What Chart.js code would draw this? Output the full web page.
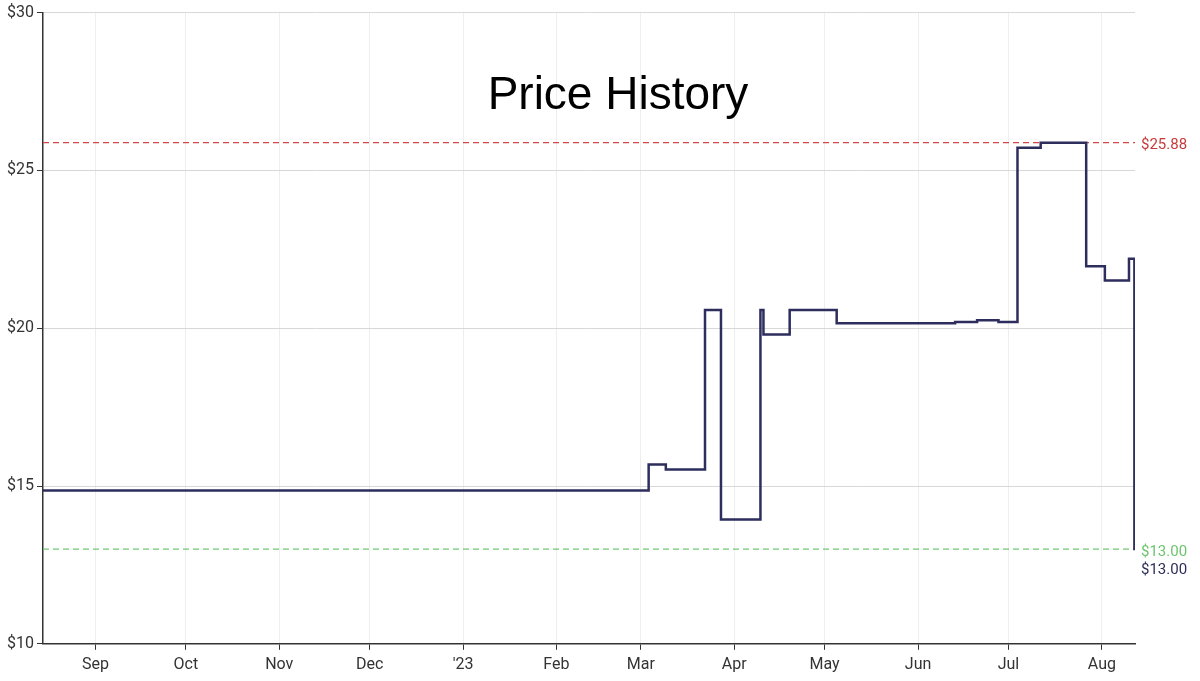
<!DOCTYPE html>
<html><head><meta charset="utf-8">
<script src="https://cdn.jsdelivr.net/npm/chart.js@4"></script>
<style>html,body{margin:0;padding:0;background:#fff}#w{width:1200px;height:681px}</style>
</head><body><div id="w"><canvas id="c"></canvas></div>
<script>
// days since 2022-09-01
const priceDays = [-17.4, 183.6, 189.3, 202.3, 207.6, 220.7, 221.7, 230.4, 246, 285.3, 292.6, 299.7, 306, 313.7, 328.8, 335, 343, 344.8, 345];
const prices    = [14.86, 15.68, 15.52, 20.58, 13.94, 20.58, 19.8, 20.58, 20.16, 20.2, 20.25, 20.2, 25.72, 25.88, 21.96, 21.51, 22.2, 13.0, 13.0];
const highPrice = 25.88;
const lowPrice = 13.00;
const currentPrice = 13.00;
const monthDays = [0, 30, 61, 91, 122, 153, 181, 212, 242, 273, 303, 334];
const monthLabels = ['Sep','Oct','Nov','Dec',"'23",'Feb','Mar','Apr','May','Jun','Jul','Aug'];
const yTicks = [10, 15, 20, 25, 30];
const xMin = -17.4, xMax = 345;

const rightLabels = {
  id:'rightLabels',
  afterDraw(ch){
    const c = ch.ctx, y = ch.scales.y, x = ch.chartArea.right + 6;
    c.save(); c.font = '15px Roboto'; c.textBaseline='middle'; c.textAlign='left';
    c.fillStyle='#c83a3a'; c.fillText('$'+highPrice.toFixed(2), x, y.getPixelForValue(highPrice)+3);
    c.fillStyle='#6cc46c'; c.fillText('$'+lowPrice.toFixed(2), x, y.getPixelForValue(lowPrice)+3);
    c.fillStyle='#2d2d5a'; c.fillText('$'+currentPrice.toFixed(2), x, y.getPixelForValue(lowPrice)+21);
    c.font='46px "Liberation Sans"'; c.fillStyle='#000'; c.textAlign='center';
    c.fillText('Price History', 618, 96);
    c.restore();
  }
};

new Chart(document.getElementById('c'), {
  type:'line',
  data:{datasets:[
    {data: priceDays.map((d,i)=>({x:d,y:prices[i]})), stepped:'before', borderColor:'#2d2d5e', borderWidth:2.5, pointRadius:0, fill:false},
    {data:[{x:xMin,y:highPrice},{x:xMax,y:highPrice}], borderColor:'#d04848', borderWidth:1.3, borderDash:[6,4], pointRadius:0},
    {data:[{x:xMin,y:lowPrice},{x:xMax,y:lowPrice}], borderColor:'#70c870', borderWidth:1.3, borderDash:[6,4], pointRadius:0}
  ]},
  options:{
    responsive:true, maintainAspectRatio:false, animation:false,
    layout:{padding:{left:4,right:65,top:1,bottom:0}},
    plugins:{legend:{display:false}, tooltip:{enabled:false}},
    scales:{
      x:{type:'linear', min:xMin, max:xMax,
        afterBuildTicks(a){a.ticks = monthDays.map(v=>({value:v}));},
        ticks:{callback:(v)=>monthLabels[monthDays.indexOf(v)], font:{family:'Roboto',size:16}, color:'#333', maxRotation:0, autoSkip:false, padding:6},
        grid:{color:'#eeeeee', tickLength:6, tickColor:'#333'},
        border:{color:'#333', width:1.5}},
      y:{min:10, max:30,
        afterBuildTicks(a){a.ticks = yTicks.map(v=>({value:v}));},
        ticks:{callback:v=>'$'+v, font:{family:'Roboto',size:16}, color:'#333', padding:3},
        grid:{color:'#d8d8d8', tickLength:6, tickColor:'#333'},
        border:{color:'#333', width:1.5}}
    }
  },
  plugins:[rightLabels]
});
</script></body></html>
